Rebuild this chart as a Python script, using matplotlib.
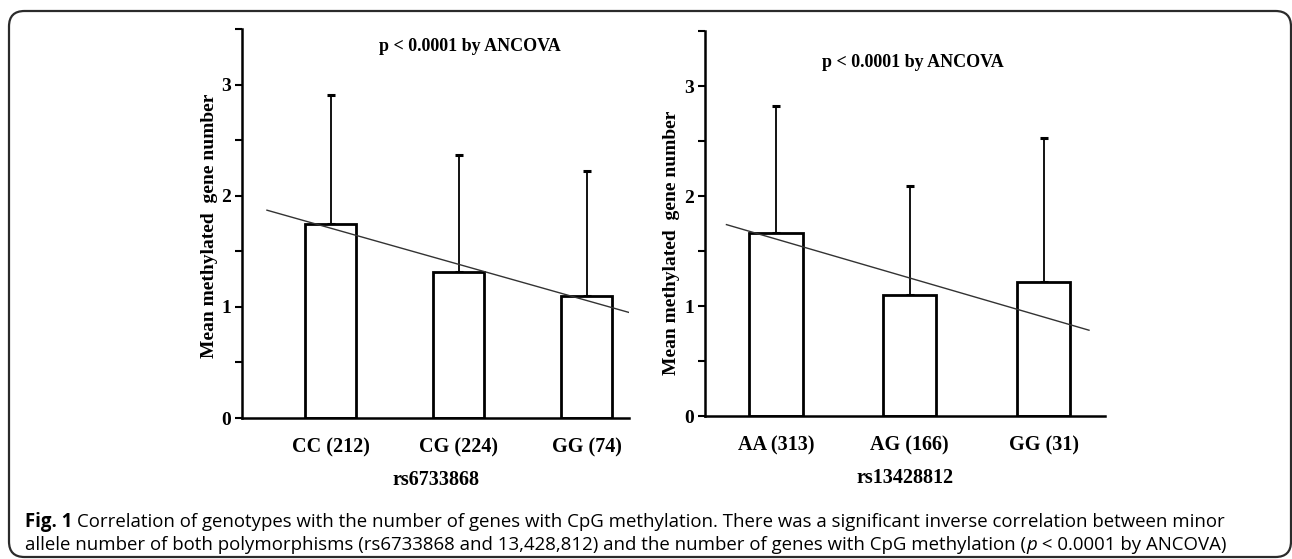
import matplotlib
matplotlib.use('Agg')
import matplotlib.pyplot as plt
from matplotlib.patches import FancyBboxPatch
from matplotlib.ticker import MultipleLocator
import numpy as np

# left panel: rs6733868
labels_1 = ["CC (212)", "CG (224)", "GG (74)"]
means_1 = [1.75, 1.31, 1.10]
upper_1 = [2.91, 2.37, 2.22]
trend_x_1 = [-0.50, 2.33]
trend_y_1 = [1.87, 0.95]

# right panel: rs13428812
labels_2 = ["AA (313)", "AG (166)", "GG (31)"]
means_2 = [1.66, 1.10, 1.22]
upper_2 = [2.82, 2.09, 2.53]
trend_x_2 = [-0.37, 2.34]
trend_y_2 = [1.74, 0.78]

SERIF = ['Liberation Serif', 'DejaVu Serif']
SANS = ['Open Sans', 'DejaVu Sans']
W, H = 1292, 559

fig = plt.figure(figsize=(12.92, 5.59), dpi=100)

# rounded frame round the figure + caption
frame = FancyBboxPatch((9 / W, 2 / H), (1282 / W), (546 / H),
                       boxstyle="round,pad=0,rounding_size=0.012",
                       transform=fig.transFigure, fill=False,
                       edgecolor='#2b2b2b', linewidth=1.6, clip_on=False,
                       mutation_aspect=W / H)
fig.patches.append(frame)


def panel(rect, labels, means, upper, tx, ty, xlim, ptext_xy, xlabel):
    ax = fig.add_axes(rect)
    x = np.arange(len(means))
    err = np.array(upper) - np.array(means)
    ax.errorbar(x, means, yerr=[np.zeros(len(err)), err], fmt='none',
                ecolor='black', elinewidth=1.3, capsize=3, capthick=2.2, zorder=1)
    ax.bar(x, means, width=0.40, facecolor='white', edgecolor='black',
           linewidth=2.0, zorder=2)
    ax.plot(tx, ty, color='#333333', linewidth=1.0, zorder=3)
    ax.set_xlim(*xlim)
    ax.set_ylim(0, 3.5)
    ax.set_xticks(x)
    ax.set_xticklabels(labels, fontsize=14.5, fontweight='bold', family=SERIF)
    ax.tick_params(axis='x', length=0, pad=14)
    ax.yaxis.set_major_locator(MultipleLocator(1))
    ax.yaxis.set_minor_locator(MultipleLocator(0.5))
    ax.tick_params(axis='y', which='both', direction='out', length=5, width=1.5,
                   labelsize=14, pad=3)
    for lab in ax.get_yticklabels():
        lab.set_fontweight('bold')
        lab.set_family(SERIF)
    for s in ['top', 'right']:
        ax.spines[s].set_visible(False)
    for s in ['left', 'bottom']:
        ax.spines[s].set_linewidth(1.8)
    ax.text(ptext_xy[0], ptext_xy[1], "p < 0.0001 by ANCOVA", ha='center', va='center',
            fontsize=13, fontweight='bold', family=SERIF)
    ax.set_xlabel(xlabel, fontsize=14.5, fontweight='bold', family=SERIF, labelpad=9)
    return ax


ax1 = panel([0.1873, 0.2522, 0.2995, 0.6959], labels_1, means_1, upper_1,
            trend_x_1, trend_y_1, (-0.695, 2.33), (1.09, 3.34), "rs6733868")
ax2 = panel([0.5457, 0.2558, 0.3096, 0.6887], labels_2, means_2, upper_2,
            trend_x_2, trend_y_2, (-0.53, 2.46), (1.02, 3.21), "rs13428812")

fig.text(210 / W, 1 - 226 / H, "Mean methylated  gene number", rotation=90,
         ha='center', va='center', fontsize=14, fontweight='bold', family=SERIF)
fig.text(671 / W, 1 - 243 / H, "Mean methylated  gene number", rotation=90,
         ha='center', va='center', fontsize=14, fontweight='bold', family=SERIF)

# caption, written piece by piece so bold / italic parts sit inline
renderer = fig.canvas.get_renderer()


def caption_line(y_px, pieces, x_px=25):
    x = x_px
    for txt, kw in pieces:
        t = fig.text(x / W, 1 - y_px / H, txt, ha='left', va='center',
                     fontsize=13.4, family=SANS, **kw)
        x += t.get_window_extent(renderer).width


caption_line(522, [("Fig. 1 ", dict(fontweight='bold')),
                   ("Correlation of genotypes with the number of genes with CpG methylation. "
                    "There was a significant inverse correlation between minor", {})])
caption_line(545, [("allele number of both polymorphisms (rs6733868 and 13,428,812) and the "
                    "number of genes with CpG methylation (", {}),
                   ("p", dict(style='italic')),
                   (" < 0.0001 by ANCOVA)", {})])

fig.savefig("out.png", dpi=100)
